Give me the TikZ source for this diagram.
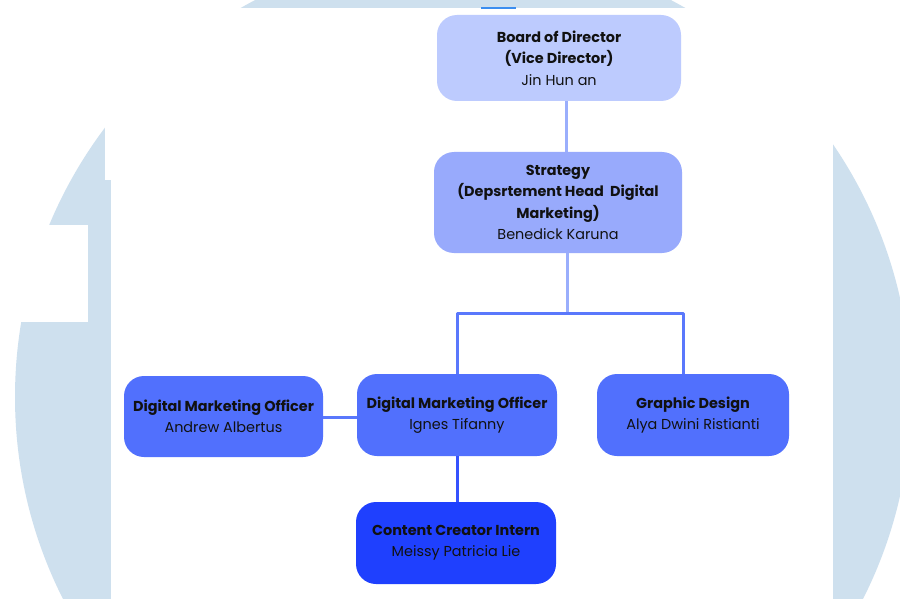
\documentclass[tikz,border=0pt]{standalone}
\usepackage{fontspec}
\setmainfont{Poppins}
\definecolor{wm}{HTML}{CEE0EE}
\definecolor{cboard}{HTML}{BDCBFE}
\definecolor{cstrat}{HTML}{98AAFC}
\definecolor{cdmo}{HTML}{5170FD}
\definecolor{ccont}{HTML}{1F40FE}
\definecolor{lnlight}{HTML}{9AAEFC}
\definecolor{lnmid}{HTML}{5A78FC}
\definecolor{lndark}{HTML}{3552FE}
\definecolor{tline}{HTML}{3B8EF0}
\definecolor{txt}{HTML}{111111}
\begin{document}
\begin{tikzpicture}[x=1pt,y=-1pt,
  box/.style={rounded corners=20pt, inner sep=0pt, align=center, text=txt,
    font=\fontsize{14.4}{21.4}\selectfont},
  conn/.style={line width=3pt},
]
\useasboundingbox (0,0) rectangle (900,599);
\fill[white] (0,0) rectangle (900,599);
% watermark
\begin{scope}
\clip (0,0) rectangle (900,599);
\fill[wm] (463,397) circle[radius=448];
\end{scope}
\fill[white] (105,8) rectangle (833,180);
\fill[white] (111,180) rectangle (833,599);
\fill[white] (0,225) rectangle (88,322);
\draw[tline, line width=1.2pt] (481,8) -- (516,8);

% nodes
\node[box, fill=cboard, minimum width=244pt, minimum height=86pt] (board) at (559,58)
  {\textbf{Board of Director}\\\textbf{(Vice Director)}\\Jin Hun an};
\node[box, fill=cstrat, minimum width=248pt, minimum height=101pt] (strat) at (558,202.5)
  {\textbf{Strategy}\\\textbf{(Depsrtement Head\ \ Digital}\\\textbf{Marketing)}\\Benedick Karuna};
\node[box, fill=cdmo, minimum width=199pt, minimum height=81pt] (dmoa) at (223.5,416.5)
  {\textbf{Digital Marketing Officer}\\Andrew Albertus};
\node[box, fill=cdmo, minimum width=200pt, minimum height=82pt] (dmoi) at (457,415)
  {\textbf{Digital Marketing Officer}\\Ignes Tifanny};
\node[box, fill=cdmo, minimum width=192pt, minimum height=82pt] (graph) at (693,415)
  {\textbf{Graphic Design}\\Alya Dwini Ristianti};
\node[box, fill=ccont, minimum width=200pt, minimum height=82pt] (cont) at (456,543)
  {\textbf{Content Creator Intern}\\Meissy Patricia Lie};

% connectors
\coordinate (split) at (567,313);
\draw[conn, lnlight] ([xshift=7pt]board.south) -- ([xshift=8pt]strat.north);
\draw[conn, lnlight] ([xshift=9pt]strat.south) -- (split);
\draw[conn, lnmid, line join=round] (dmoi.north) |- (split) -| ([xshift=-10pt]graph.north);
\draw[conn, lnmid] (dmoa.east |- 0,417) -- (dmoi.west |- 0,417);
\draw[conn, lndark] (dmoi.south) -- (dmoi.south |- cont.north);
\end{tikzpicture}
\end{document}
